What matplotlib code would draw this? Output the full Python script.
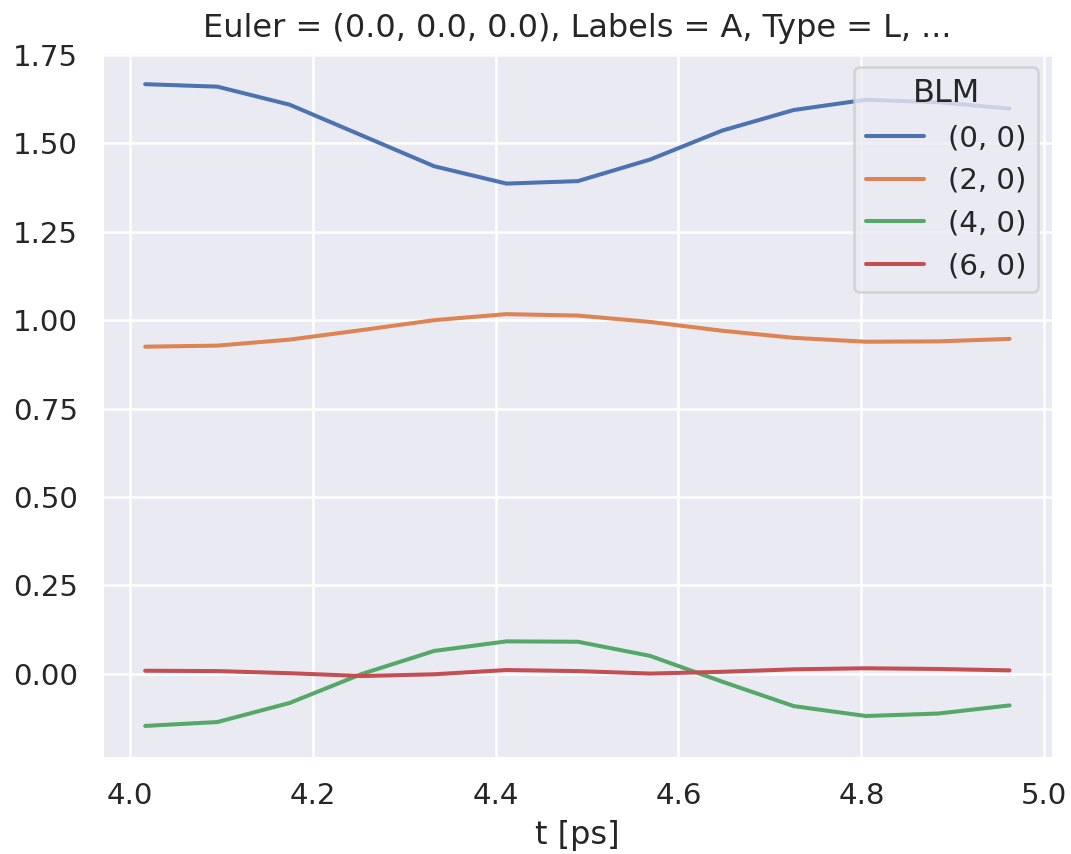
import numpy as np
import matplotlib
matplotlib.use("Agg")
import matplotlib.pyplot as plt
import seaborn as sns

sns.set_theme(font_scale=1.06)  # darkgrid, notebook context

t = [4.017, 4.096, 4.175, 4.254, 4.333, 4.412, 4.490, 4.569, 4.648, 4.726, 4.805, 4.884, 4.962]
blm_00 = [1.667, 1.660, 1.609, 1.522, 1.435, 1.386, 1.393, 1.454, 1.536, 1.594, 1.623, 1.616, 1.598]
blm_20 = [0.925, 0.928, 0.945, 0.972, 1.000, 1.017, 1.013, 0.995, 0.970, 0.950, 0.939, 0.940, 0.947]
blm_40 = [-0.147, -0.136, -0.082, 0.000, 0.065, 0.092, 0.091, 0.051, -0.022, -0.091, -0.119, -0.112, -0.089]
blm_60 = [0.009, 0.008, 0.002, -0.006, -0.001, 0.011, 0.008, 0.001, 0.006, 0.013, 0.016, 0.014, 0.010]
labels = ["(0, 0)", "(2, 0)", "(4, 0)", "(6, 0)"]
title = "Euler = (0.0, 0.0, 0.0), Labels = A, Type = L, ..."

dpi = 181
fig = plt.figure(figsize=(1071 / dpi, 854 / dpi), dpi=dpi)
ax = fig.add_axes([0.0952, 0.1124, 0.983 - 0.0952, 0.939 - 0.1124])

for ys, lab in zip([blm_00, blm_20, blm_40, blm_60], labels):
    ax.plot(t, ys, label=lab, linewidth=1.6)

ax.set_xticks([4.0, 4.2, 4.4, 4.6, 4.8, 5.0])
ax.set_yticks([0.0, 0.25, 0.5, 0.75, 1.0, 1.25, 1.5, 1.75])
ax.set_xlabel("t [ps]")
ax.set_title(title)
ax.legend(title="BLM", loc="upper right")

fig.savefig("out.png", dpi=dpi)
